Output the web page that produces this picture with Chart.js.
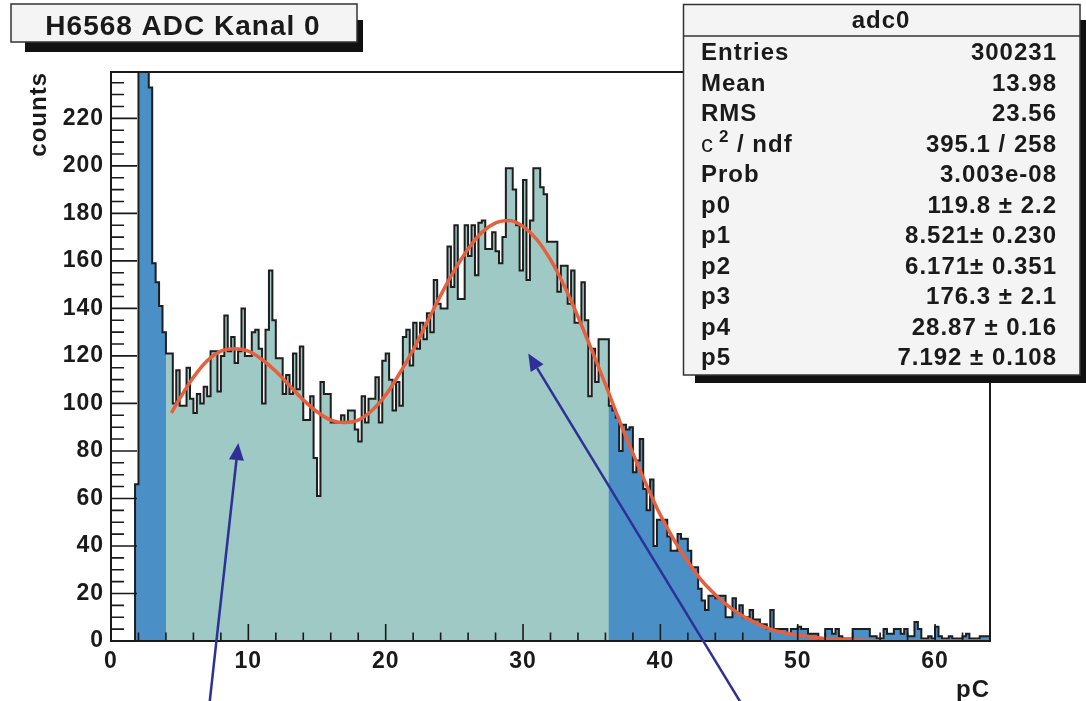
<!DOCTYPE html>
<html>
<head>
<meta charset="utf-8">
<script src="https://cdn.jsdelivr.net/npm/chart.js@4.4.1/dist/chart.umd.min.js"></script>
<style>
html,body{margin:0;padding:0;background:#fff;}
#wrap{width:1086px;height:701px;}
</style>
</head>
<body>
<div id="wrap"><canvas id="chart" width="1086" height="701"></canvas></div>
<script>
// adc0 histogram, 0.25 pC bins from 0 to 64 pC
const binWidth = 0.25;
const counts = [
  0,0,0,0,0,0,0,66,152000,118000,9800,233,159,151,141,130,
  121,121,100,114,99,99,115,102,96,104,100,107,103,122,122,105,
  120,137,122,128,117,122,140,120,120,130,131,123,100,131,156,135,
  119,119,104,112,104,121,106,124,93,93,103,77,61,109,104,104,
  92,92,92,95,92,97,97,89,84,103,92,102,102,111,92,118,
  121,110,97,109,99,128,131,116,134,123,134,127,138,130,152,142,
  140,140,166,149,175,144,144,175,162,175,154,176,177,165,165,172,
  164,159,170,199,199,190,175,156,194,152,177,199,199,191,188,168,
  168,168,147,158,158,142,156,134,134,151,135,103,123,109,127,127,
  127,99,97,94,80,91,89,90,71,76,85,64,55,68,40,51,
  51,51,44,38,38,45,43,43,38,31,31,22,17,13,19,19,
  18,19,19,10,10,18,12,15,10,10,13,9,9,7,7,5,
  13,5,5,5,5,3,5,5,6,5,5,3,3,3,1,1,
  5,5,3,5,2,1,1,1,5,5,5,5,5,2,2,1,
  1,5,3,3,5,5,3,5,2,2,8,5,1,1,2,1,
  6,2,1,1,2,1,1,1,2,3,1,1,1,2,2,2
];
// range shown in the lighter colour (pC)
const tealFrom = 4.0, tealTo = 36.25;

// fitted curve
const fitX = [4.4,5,6,7,8,9,10,11,12,13,14,15,16,17,18,19,20,21,22,23,24,25,26,27,28,29,30,31,32,33,34,35,36,37,38,39,40,41,42,43,44,45,46,47,48,49,50,52,54,57,60,64];
const fitY = [96,102,111,118,122,123,122,118.5,113.5,107.5,101.5,96.5,93,92,93,97,103.5,112.5,122.5,134,145.5,156,165,172,176,177,174.5,169,160.5,149.5,136.5,122.5,108,93,79,65.5,53,42.5,33.5,25.5,19.5,14.5,10.5,7.5,5,3.5,2.5,1,0.5,0,0,0];

// arrows, in pC / counts
const arrowFrom = [[7.17,-26.4],[45.9,-26.4]];
const arrowTo = [[9.27,83.3],[30.38,121]];

const titleText = 'H6568 ADC Kanal 0';
const statsTitle = 'adc0';
const statsNames = ['Entries','Mean','RMS','chi2','Prob','p0','p1','p2','p3','p4','p5'];
const statsValues = ['300231','13.98','23.56','395.1 / 258','3.003e-08','119.8 \u00b1 2.2','8.521\u00b1 0.230','6.171\u00b1 0.351','176.3 \u00b1 2.1','28.87 \u00b1 0.16','7.192 \u00b1 0.108'];

const FONT = '"Liberation Sans", Arial, sans-serif';
const INK = '#1a1a1a';

// build step points: one per bin low edge, plus the closing edge
let histPts = counts.map((c,i)=>({x:i*binWidth, y:c}));
histPts.push({x:counts.length*binWidth, y:counts[counts.length-1]});
let i0 = Math.round(tealFrom/binWidth), i1 = Math.round(tealTo/binWidth);
let tealPts = counts.slice(i0,i1).map((c,j)=>({x:(i0+j)*binWidth, y:c}));
tealPts.push({x:tealTo, y:counts[i1-1]});
let fitPts = fitX.map((v,i)=>({x:v, y:fitY[i]}));

function arrow(ctx,x0,y0,x1,y1){
    const a = Math.atan2(y1-y0,x1-x0), hl = 17, hw = 7.5;
    const bx = x1-hl*Math.cos(a), by = y1-hl*Math.sin(a);
    ctx.beginPath(); ctx.moveTo(x0,y0); ctx.lineTo(bx,by); ctx.stroke();
    ctx.beginPath();
    ctx.moveTo(x1,y1);
    ctx.lineTo(bx+hw*Math.sin(a), by-hw*Math.cos(a));
    ctx.lineTo(bx-hw*Math.sin(a), by+hw*Math.cos(a));
    ctx.closePath(); ctx.fill();
}

const rootDecor = {
    id:'rootDecor',
    beforeDraw(chart){
        // the original lettering is a bit wider than Helvetica
        chart.ctx.letterSpacing = '1px';
    },
    afterDatasetsDraw(chart){
        const {ctx, chartArea:a, scales:{x,y}} = chart;
        ctx.save();
        ctx.strokeStyle = INK; ctx.lineWidth = 2;
        ctx.strokeRect(a.left, a.top, a.right-a.left, a.bottom-a.top);
        ctx.lineWidth = 1.6;
        ctx.beginPath();
        for (let v=0; v<=y.max; v+=5) {
            let p = y.getPixelForValue(v), len = v%20==0 ? 26 : 13;
            ctx.moveTo(a.left,p); ctx.lineTo(a.left+len,p);
        }
        for (let v=0; v<=x.max; v+=2) {
            let p = x.getPixelForValue(v), len = v%10==0 ? 17 : 8.5;
            ctx.moveTo(p,a.bottom); ctx.lineTo(p,a.bottom-len);
        }
        ctx.stroke();
        ctx.restore();
    },
    afterDraw(chart){
        const {ctx, chartArea:a, scales:{x,y}} = chart;
        ctx.save();
        ctx.letterSpacing = '1px';
        // axis titles
        ctx.fillStyle = INK;
        ctx.font = 'bold 24px '+FONT;
        ctx.textAlign = 'right'; ctx.textBaseline = 'alphabetic';
        ctx.fillText('pC', a.right, 697);
        ctx.save();
        ctx.translate(39, a.top); ctx.rotate(-Math.PI/2);
        ctx.textBaseline = 'middle';
        ctx.fillText('counts', 0, 0);
        ctx.restore();

        // arrows
        ctx.strokeStyle = '#2f2f98'; ctx.fillStyle = '#2f2f98'; ctx.lineWidth = 2.5;
        arrowFrom.forEach((f,i)=>{
            arrow(ctx, x.getPixelForValue(f[0]), y.getPixelForValue(f[1]),
                x.getPixelForValue(arrowTo[i][0]), y.getPixelForValue(arrowTo[i][1]));
        });

        // title box
        ctx.fillStyle = '#111';
        ctx.fillRect(25,20,338,32);
        ctx.fillStyle = '#f4f4f4'; ctx.fillRect(11,4,346,38);
        ctx.strokeStyle = '#333'; ctx.lineWidth = 1.5; ctx.strokeRect(11,4,346,38);
        ctx.fillStyle = INK; ctx.font = 'bold 28px '+FONT; ctx.textAlign = 'center';
        ctx.fillText(titleText, 183, 35);

        // stats box
        ctx.fillStyle = '#111';
        ctx.fillRect(695,20,391,363);
        ctx.fillStyle = '#f4f4f4'; ctx.fillRect(683.5,4.5,396.5,370.5);
        ctx.strokeStyle = '#333'; ctx.strokeRect(683.5,4.5,396.5,370.5);
        ctx.beginPath(); ctx.moveTo(683.5,36); ctx.lineTo(1080,36); ctx.stroke();
        ctx.fillStyle = INK;
        ctx.font = 'bold 24px '+FONT; ctx.textAlign = 'center';
        ctx.fillText(statsTitle, 881, 28);
        statsNames.forEach((n,i)=>{
            let base = 60 + i*30.5;
            ctx.textAlign = 'left';
            if (n=='chi2') {
                ctx.font = '24px '+FONT;
                ctx.fillText('c', 701, base);
                ctx.font = 'bold 17px '+FONT;
                ctx.fillText('2', 719, base-10);
                ctx.font = 'bold 24px '+FONT;
                ctx.fillText('/ ndf', 737, base);
            } else {
                ctx.font = 'bold 24px '+FONT;
                ctx.fillText(n, 701, base);
            }
            ctx.font = 'bold 24px '+FONT;
            ctx.textAlign = 'right';
            ctx.fillText(statsValues[i], 1057, base);
        });
        ctx.restore();
    }
};

const tickFont = {family:'"Liberation Sans", Arial, sans-serif', size:23, weight:'bold'};

new Chart(document.getElementById('chart'), {
    type:'line',
    data:{
        datasets:[{
            data:histPts, stepped:true, fill:'origin',
            backgroundColor:'#4b8fc7', borderColor:'rgba(0,0,0,0)', borderWidth:0,
            pointRadius:0, order:4
        },{
            data:tealPts, stepped:true, fill:'origin',
            backgroundColor:'#9ec9c4', borderColor:'rgba(0,0,0,0)', borderWidth:0,
            pointRadius:0, order:3
        },{
            data:histPts, stepped:true, fill:false,
            borderColor:'#1e1e1e', borderWidth:2,
            pointRadius:0, order:2
        },{
            data:fitPts, fill:false, cubicInterpolationMode:'monotone',
            borderColor:'#e6603e', borderWidth:3.5,
            pointRadius:0, order:1
        }]
    },
    options:{
        responsive:false,
        devicePixelRatio:1,
        animation:false,
        events:[],
        layout:{padding:{top:72, right:96, bottom:0, left:0}},
        plugins:{legend:{display:false}, tooltip:{enabled:false}},
        scales:{
            x:{
                type:'linear', min:0, max:64,
                afterFit:(s)=>{ s.height = 60; },
                grid:{display:false, drawTicks:false, tickLength:0}, border:{display:false},
                ticks:{stepSize:10, includeBounds:false, autoSkip:false, maxRotation:0,
                    padding:7, color:INK, font:tickFont}
            },
            y:{
                type:'linear', min:0, max:239.5,
                afterFit:(s)=>{ s.width = 111; },
                grid:{display:false, drawTicks:false, tickLength:0}, border:{display:false},
                ticks:{stepSize:20, includeBounds:false, padding:7, color:INK, font:tickFont}
            }
        }
    },
    plugins:[rootDecor]
});
</script>
</body>
</html>
